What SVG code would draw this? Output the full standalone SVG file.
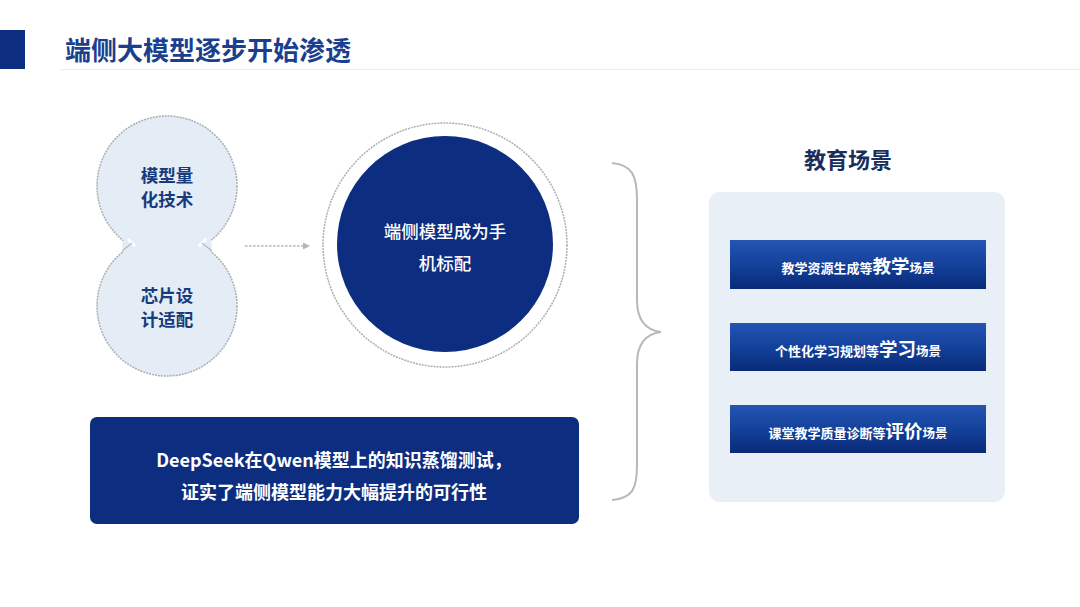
<svg xmlns="http://www.w3.org/2000/svg" width="1080" height="607" viewBox="0 0 1080 607">
<defs>
<style>
.cjk{font-family:"Noto Sans CJK SC","Noto Sans",sans-serif;}
.ring{fill:#e4ecf6;stroke:#abaeb4;stroke-width:1.5;stroke-dasharray:2 1;}
.ctext{font-size:17.5px;font-weight:700;fill:#173b7c;text-anchor:middle;}
.bar{fill:url(#barGrad);}
.btext{fill:#ffffff;text-anchor:middle;font-weight:700;}
</style>
<linearGradient id="barGrad" x1="0" y1="0" x2="0" y2="1">
<stop offset="0" stop-color="#2455b4"/>
<stop offset="0.55" stop-color="#123f98"/>
<stop offset="1" stop-color="#0a2a78"/>
</linearGradient>
<marker id="arr" markerWidth="8" markerHeight="8" refX="6" refY="4" orient="auto" markerUnits="userSpaceOnUse">
<path d="M0,0.5 L7,4 L0,7.5 Z" fill="#b5b5b5"/>
</marker>
</defs>
<rect width="1080" height="607" fill="#ffffff"/>

<g id="header">
<rect x="0" y="30" width="25" height="39" fill="#0c2d80"/>
<line x1="60" y1="69.5" x2="1080" y2="69.5" stroke="#ededed" stroke-width="1"/>
<text x="65" y="60" class="cjk" font-size="26" font-weight="700" fill="#1b3f8f">端侧大模型逐步开始渗透</text>
</g>

<g id="node-tech">
<circle class="ring" cx="167" cy="186" r="70"/>
<circle class="ring" cx="167" cy="306" r="70"/>
<ellipse cx="167" cy="246" rx="45" ry="23" fill="#e4ecf6"/>
<path d="M128,239 L135,246 M206,239 L199,246" stroke="#ffffff" stroke-width="3"/>
<path d="M122,251 L132,243 M212,251 L202,243" stroke="#b4b7bc" stroke-width="1.2"/>
<text x="167" y="182" class="cjk ctext">模型量</text>
<text x="167" y="206" class="cjk ctext">化技术</text>
<text x="167" y="302" class="cjk ctext">芯片设</text>
<text x="167" y="326" class="cjk ctext">计适配</text>
</g>

<g id="connectors">
<line x1="245" y1="246" x2="309" y2="246" stroke="#b5b5b5" stroke-width="1.5" stroke-dasharray="2.5 1.5" marker-end="url(#arr)"/>
<path d="M612,163 C632,165 637,175 637,200 L637,300 C637,320 645,330 661,332 C645,334 637,344 637,364 L637,465 C637,490 632,498 612,500" fill="none" stroke="#b8b8b8" stroke-width="2"/>
</g>

<g id="node-phone">
<circle cx="445" cy="245" r="122" fill="#ffffff" stroke="#abaeb4" stroke-width="1.5" stroke-dasharray="2 1"/>
<circle cx="445" cy="244" r="108" fill="#0c2d80"/>
<text x="445" y="238" class="cjk" font-size="17.5" font-weight="500" fill="#ffffff" text-anchor="middle">端侧模型成为手</text>
<text x="445" y="270" class="cjk" font-size="17.5" font-weight="500" fill="#ffffff" text-anchor="middle">机标配</text>
</g>

<g id="node-deepseek">
<rect x="90" y="417" width="489" height="107" rx="7" fill="#0c2d80"/>
<text x="334" y="467" class="cjk" font-size="18" font-weight="700" fill="#ffffff" text-anchor="middle">DeepSeek在Qwen模型上的知识蒸馏测试，</text>
<text x="334" y="499" class="cjk" font-size="18" font-weight="700" fill="#ffffff" text-anchor="middle">证实了端侧模型能力大幅提升的可行性</text>
</g>

<g id="node-education">
<text x="848" y="168" class="cjk" font-size="22" font-weight="700" fill="#1a2e5c" text-anchor="middle">教育场景</text>
<rect x="709" y="192" width="296" height="310" rx="11" fill="#e9eff7"/>
</g>

<g id="node-teach">
<rect class="bar" x="730" y="240" width="256" height="49"/>
<text x="858" y="273" class="cjk btext"><tspan font-size="13">教学资源生成等</tspan><tspan font-size="18.5">教学</tspan><tspan font-size="12.5">场景</tspan></text>
</g>

<g id="node-learn">
<rect class="bar" x="730" y="323" width="256" height="48"/>
<text x="858" y="356" class="cjk btext"><tspan font-size="13">个性化学习规划等</tspan><tspan font-size="18.5">学习</tspan><tspan font-size="12.5">场景</tspan></text>
</g>

<g id="node-eval">
<rect class="bar" x="730" y="405" width="256" height="48"/>
<text x="858" y="438" class="cjk btext"><tspan font-size="13">课堂教学质量诊断等</tspan><tspan font-size="18.5">评价</tspan><tspan font-size="12.5">场景</tspan></text>
</g>
</svg>
